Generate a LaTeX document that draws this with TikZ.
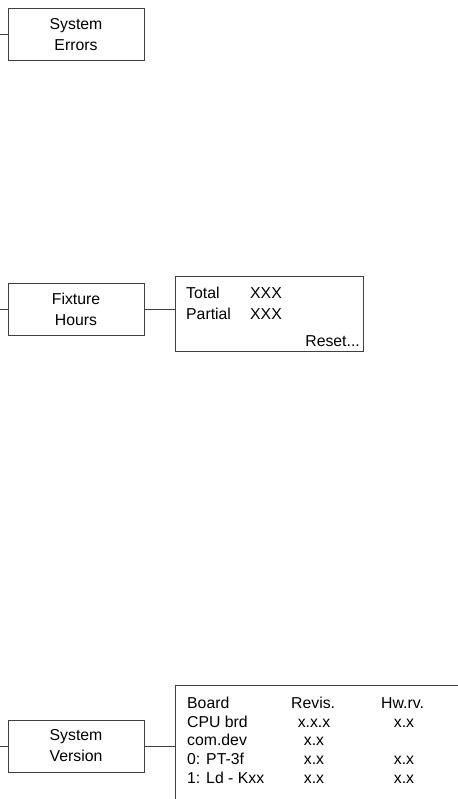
\documentclass[tikz,border=0pt]{standalone}
\usepackage{fontspec}
\setmainfont{Liberation Sans}
\begin{document}
\begin{tikzpicture}[x=1pt,y=-1pt,
  menubox/.style={draw=black!75, line width=1pt, minimum width=136pt,
    minimum height=52pt, align=center, inner sep=0pt,
    font=\fontsize{15.8}{21}\selectfont},
  infobox/.style={draw=black!75, line width=1pt, inner sep=0pt},
  wire/.style={draw=black!75, line width=1pt},
  txt/.style={inner sep=0pt, anchor=base west, font=\fontsize{15.8}{19}\selectfont},
  txtc/.style={txt, anchor=base},
  txtr/.style={txt, anchor=base east}]
\useasboundingbox (0,0) rectangle (457,799);

% menu entries
\node[menubox] (se) at (76,35) {System\\Errors};
\node[menubox] (fh) at (76,309.5) {Fixture\\Hours};
\node[menubox] (sv) at (76,746) {System\\Version};

% incoming branches from the left
\coordinate (inse) at (0,35);
\coordinate (infh) at (0,309.5);
\coordinate (insv) at (0,746);
\draw[wire] (inse) -- (se.west);
\draw[wire] (infh) -- (fh.west);
\draw[wire] (insv) -- (sv.west);

% fixture hours display
\node[infobox, minimum width=188pt, minimum height=75pt] (fhinfo) at (269,313.5) {};
\draw[wire] (fh.east) -- (fh.east -| fhinfo.west);
\node[txt] (tot) at (186,298) {Total};
\node[txt] (totv) at (250,298) {XXX};
\node[txt] (par) at (186,319) {Partial};
\node[txt] (parv) at (250,319) {XXX};
\node[txtr] (rst) at (360,346) {Reset...};

% system version display (continues past the page edge)
\node[infobox, anchor=north west, minimum width=300pt, minimum height=140pt] (svinfo) at (175,685) {};
\draw[wire] (sv.east) -- (sv.east -| svinfo.west);
\node[txt] (h1) at (187,708) {Board};
\node[txt] (h2) at (291,708) {Revis.};
\node[txt] (h3) at (381,708) {Hw.rv.};
\node[txt] (r1) at (187,727) {CPU brd};
\node[txtc] (r1a) at (314,727) {x.x.x};
\node[txtc] (r1b) at (404,727) {x.x};
\node[txt] (r2) at (187,745.8) {com.dev};
\node[txtc] (r2a) at (314,745.8) {x.x};
\node[txt] (r3) at (187,764.5) {0: PT-3f};
\node[txtc] (r3a) at (314,764.5) {x.x};
\node[txtc] (r3b) at (404,764.5) {x.x};
\node[txt] (r4) at (187,783.5) {1: Ld - Kxx};
\node[txtc] (r4a) at (314,783.5) {x.x};
\node[txtc] (r4b) at (404,783.5) {x.x};
\end{tikzpicture}
\end{document}
